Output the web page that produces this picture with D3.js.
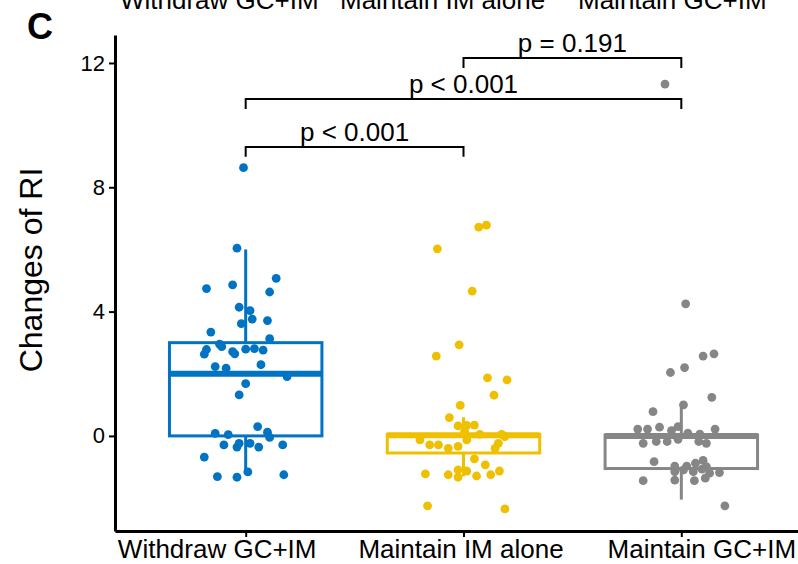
<!DOCTYPE html>
<html>
<head>
<meta charset="utf-8">
<script src="https://cdn.jsdelivr.net/npm/d3@7"></script>
<style>
  body { margin: 0; background: #fff; }
  svg { font-family: "Liberation Sans", Arial, sans-serif; }
</style>
</head>
<body>
<div id="chart"></div>
<script>
// groups and colours
var groups = ["Withdraw GC+IM", "Maintain IM alone", "Maintain GC+IM"];
var colors = ["#0073C2", "#EFC000", "#868686"];

// box stats: [low whisker, q1, median, q3, high whisker]
var boxStats = [
  [-1.16, 0.0, 2.0, 3.0, 6.0],
  [-1.3, -0.55, 0.02, 0.05, 0.6],
  [-2.05, -1.05, 0.0, 0.03, 1.0]
];

// individual values (changes of RI) and their horizontal jitter (fraction of a step)
var withdrawVals = [8.63, 6.04, 5.07, 4.74, 4.86, 4.63, 4.14, 4.03, 3.76, 3.61, 3.71, 3.34, 3.13, 2.95, 2.87,
  2.78, 2.63, 2.71, 2.64, 2.79, 2.81, 2.76, 2.23, 2.18, 2.29, 1.91, 1.68, 1.32, 0.30, 0.08,
  0.04, 0.12, -0.05, -0.29, -0.24, -0.36, -0.24, -0.36, -0.29, -0.68, -1.16, -1.31, -1.33, -1.25];
var withdrawJit = [-0.01, -0.04, 0.14, -0.18, -0.06, 0.11, -0.03, 0.02, 0.03, -0.02, 0.10, -0.16, 0.11, -0.12, -0.11,
  -0.18, -0.19, -0.06, -0.05, 0.0, 0.04, 0.08, -0.14, -0.09, 0.07, 0.19, 0.0, -0.03, 0.055, -0.14,
  -0.08, 0.10, 0.11, -0.10, -0.03, -0.04, 0.02, 0.06, 0.17, -0.19, 0.01, -0.13, -0.04, 0.175];

var imAloneVals = [6.78, 6.72, 6.02, 4.66, 2.93, 2.57, 1.87, 1.80, 1.31, 0.98, 0.59, 0.32, 0.34, 0.35, 0.14,
  0.05, 0.05, -0.02, -0.13, -0.29, -0.29, -0.40, -0.34, -0.13, -0.24, -0.40, -0.74, -0.93, -1.09, -1.13,
  -1.22, -1.25, -1.33, -1.29, -1.25, -1.13, -2.25, -2.35];
var imAloneJit = [0.105, 0.07, -0.12, 0.04, -0.02, -0.125, 0.11, 0.20, 0.14, -0.015, -0.065, -0.025, 0.015, 0.05, 0.005,
  0.075, 0.175, 0.19, -0.20, -0.155, -0.115, -0.07, -0.025, 0.015, 0.16, 0.145, 0.05, 0.10, -0.025, 0.015,
  -0.175, -0.07, -0.025, 0.06, 0.125, 0.165, -0.165, 0.19];

var gcImVals = [11.32, 4.25, 2.57, 2.64, 2.20, 2.04, 1.24, 1.00, 0.78, 0.22, 0.22, 0.28, 0.17, 0.30, 0.09,
  0.06, 0.22, -0.24, -0.18, -0.18, -0.11, -0.18, -0.24, -0.83, -0.97, -0.97, -0.88, -0.79, -0.99, -1.15,
  -1.09, -1.15, -1.07, -1.20, -1.18, -1.36, -1.42, -1.44, -1.44, -2.25];
var gcImJit = [-0.075, 0.02, 0.10, 0.15, 0.015, -0.05, 0.14, 0.01, -0.13, -0.20, -0.155, -0.10, -0.045, -0.015, 0.03,
  0.085, 0.155, -0.175, -0.115, -0.065, -0.015, 0.08, 0.115, -0.125, -0.03, 0.025, 0.065, 0.10, 0.115, -0.03,
  0.01, 0.055, 0.095, 0.13, 0.175, 0.11, -0.03, 0.06, -0.175, 0.20];

// significance brackets: [from group, to group, height, label]
var compFrom = [0, 0, 1];
var compTo = [1, 2, 2];
var compY = [9.30, 10.84, 12.16];
var compLabel = ["p < 0.001", "p < 0.001", "p = 0.191"];

var yTicks = [0, 4, 8, 12];

var W = 798, H = 564;
var svg = d3.select("#chart").append("svg")
    .attr("width", W)
    .attr("height", H);

// scales
var y = d3.scaleLinear().domain([-3.06, 12.9]).range([531, 35]);
var x = d3.scalePoint().domain(groups).range([115, 812]).padding(0.6);
var step = x.step();
var boxW = step * 0.7;

// cut off legend labels at the very top
var legendX = [120, 340, 578];
svg.append("g").selectAll("text")
    .data(groups)
    .enter().append("text")
    .attr("x", function(d, i) { return legendX[i]; })
    .attr("y", 9)
    .attr("font-size", 26)
    .attr("fill", "#000")
    .text(function(d) { return d; });

// panel letter
svg.append("text")
    .attr("x", 27)
    .attr("y", 39)
    .attr("font-size", 36)
    .attr("font-weight", "bold")
    .text("C");

// boxes
var boxes = svg.append("g").selectAll("g")
    .data(boxStats)
    .enter().append("g");

boxes.append("line")
    .attr("x1", function(d, i) { return x(groups[i]); })
    .attr("x2", function(d, i) { return x(groups[i]); })
    .attr("y1", function(d) { return y(d[0]); })
    .attr("y2", function(d) { return y(d[1]); })
    .attr("stroke", function(d, i) { return colors[i]; })
    .attr("stroke-width", 3);
boxes.append("line")
    .attr("x1", function(d, i) { return x(groups[i]); })
    .attr("x2", function(d, i) { return x(groups[i]); })
    .attr("y1", function(d) { return y(d[3]); })
    .attr("y2", function(d) { return y(d[4]); })
    .attr("stroke", function(d, i) { return colors[i]; })
    .attr("stroke-width", 3);
boxes.append("rect")
    .attr("x", function(d, i) { return x(groups[i]) - boxW / 2; })
    .attr("y", function(d) { return y(d[3]); })
    .attr("width", boxW)
    .attr("height", function(d) { return y(d[1]) - y(d[3]); })
    .attr("fill", "#fff")
    .attr("stroke", function(d, i) { return colors[i]; })
    .attr("stroke-width", 3);
boxes.append("line")
    .attr("x1", function(d, i) { return x(groups[i]) - boxW / 2; })
    .attr("x2", function(d, i) { return x(groups[i]) + boxW / 2; })
    .attr("y1", function(d) { return y(d[2]); })
    .attr("y2", function(d) { return y(d[2]); })
    .attr("stroke", function(d, i) { return colors[i]; })
    .attr("stroke-width", 6);

// points
var allVals = [withdrawVals, imAloneVals, gcImVals];
var allJit = [withdrawJit, imAloneJit, gcImJit];
allVals.forEach(function(vals, g) {
    svg.append("g").selectAll("circle")
        .data(vals)
        .enter().append("circle")
        .attr("cx", function(d, i) { return x(groups[g]) + allJit[g][i] * step; })
        .attr("cy", function(d) { return y(d); })
        .attr("r", 4.4)
        .attr("fill", colors[g]);
});

// axes
var yAxis = svg.append("g")
    .attr("transform", "translate(115,0)")
    .call(d3.axisLeft(y).tickValues(yTicks).tickSize(6).tickSizeOuter(0).tickPadding(4));
yAxis.select(".domain").attr("stroke", "#000").attr("stroke-width", 3);
yAxis.selectAll(".tick line").attr("stroke", "#000").attr("stroke-width", 2);
yAxis.selectAll("text").attr("font-size", 22).attr("fill", "#000")
    .attr("font-family", "Liberation Sans, Arial, sans-serif");

// bottom labels sit a little off their ticks in the reference
var labelShift = [-29, -3, 20];
var xAxis = svg.append("g")
    .attr("transform", "translate(0,531)")
    .call(d3.axisBottom(x).tickSize(6).tickSizeOuter(0).tickPadding(3));
xAxis.select(".domain").attr("stroke", "#000").attr("stroke-width", 3);
xAxis.selectAll(".tick line").attr("stroke", "#000").attr("stroke-width", 2);
xAxis.selectAll("text").attr("font-size", 26).attr("fill", "#000")
    .attr("font-family", "Liberation Sans, Arial, sans-serif")
    .attr("dx", function(d, i) { return labelShift[i]; });

// y title
svg.append("text")
    .attr("transform", "translate(42,270) rotate(-90)")
    .attr("text-anchor", "middle")
    .attr("font-size", 32)
    .text("Changes of RI");

// brackets
var tickLen = 0.32;
compY.forEach(function(h, i) {
    var x1 = x(groups[compFrom[i]]), x2 = x(groups[compTo[i]]);
    svg.append("path")
        .attr("d", "M" + x1 + "," + y(h - tickLen) + "V" + y(h) + "H" + x2 + "V" + y(h - tickLen))
        .attr("fill", "none")
        .attr("stroke", "#000")
        .attr("stroke-width", 2);
    svg.append("text")
        .attr("x", (x1 + x2) / 2)
        .attr("y", y(h) - 6)
        .attr("text-anchor", "middle")
        .attr("font-size", 26)
        .text(compLabel[i]);
});
</script>
</body>
</html>
